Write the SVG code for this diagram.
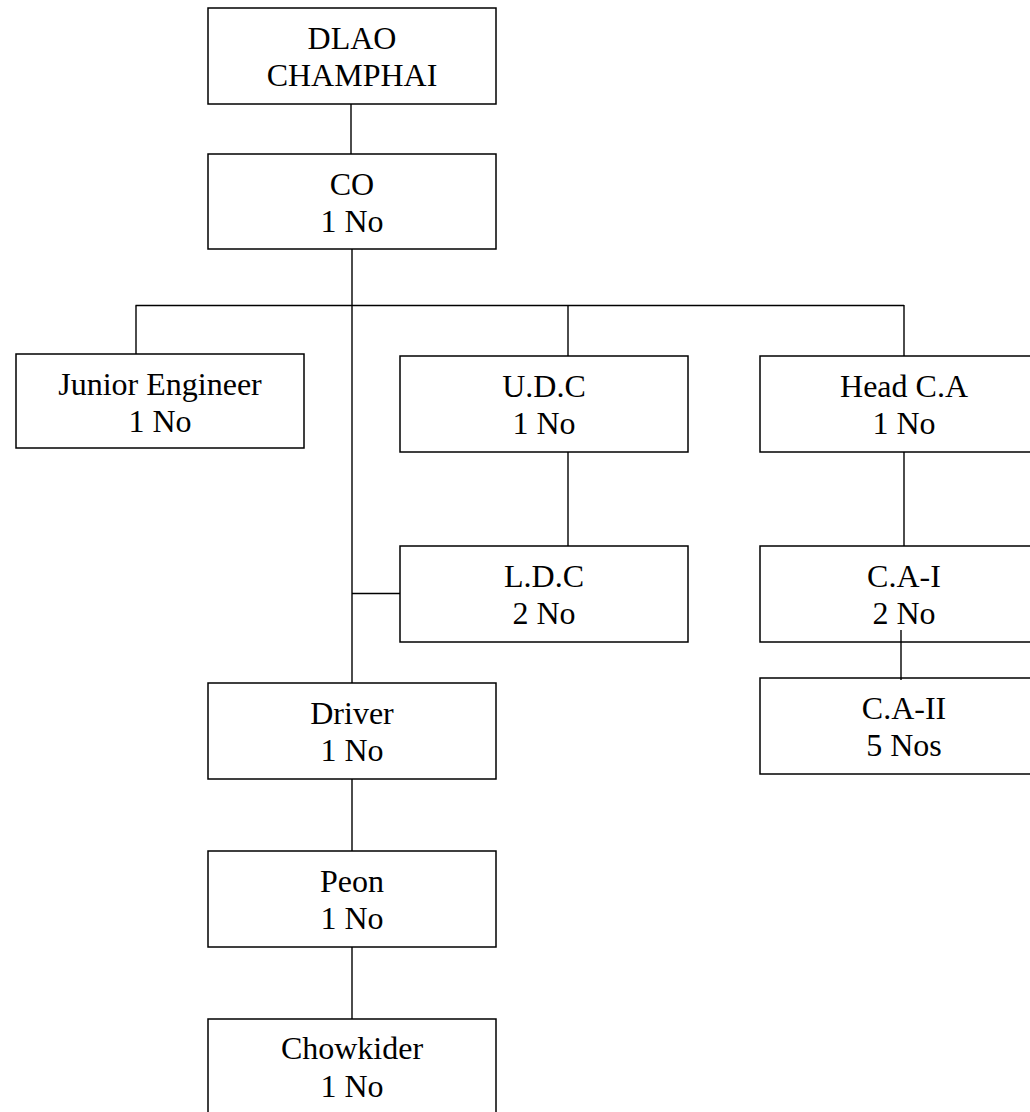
<svg xmlns="http://www.w3.org/2000/svg" width="1030" height="1112" viewBox="0 0 1030 1112">
<style>
.box{fill:none;stroke:#000;stroke-width:1.5}
.ln{stroke:#000;stroke-width:1.4;fill:none}
text{font-family:"Liberation Serif","Times New Roman",serif;font-size:32px;fill:#000;text-anchor:middle}
</style>
<rect width="1030" height="1112" fill="#fff"/>
<g id="connectors">
<line class="ln" x1="351" y1="104" x2="351" y2="154"/>
<line class="ln" x1="352" y1="249" x2="352" y2="305.5"/>
<line class="ln" x1="135.5" y1="305.5" x2="904" y2="305.5"/>
<line class="ln" x1="136" y1="305.5" x2="136" y2="354"/>
<line class="ln" x1="352" y1="305.5" x2="352" y2="683"/>
<line class="ln" x1="568" y1="305.5" x2="568" y2="356"/>
<line class="ln" x1="904" y1="305" x2="904" y2="356"/>
<line class="ln" x1="568" y1="452" x2="568" y2="546"/>
<line class="ln" x1="904" y1="452" x2="904" y2="546"/>
<line class="ln" x1="352" y1="593.5" x2="400" y2="593.5"/>
<line class="ln" x1="901" y1="630" x2="901" y2="680"/>
<line class="ln" x1="352" y1="779" x2="352" y2="851"/>
<line class="ln" x1="352" y1="947" x2="352" y2="1019"/>
</g>
<g id="dlao"><rect class="box" x="208" y="8" width="288" height="96"/><text x="352" y="49">DLAO</text><text x="352" y="86">CHAMPHAI</text></g>
<g id="co"><rect class="box" x="208" y="154" width="288" height="95"/><text x="352" y="195">CO</text><text x="352" y="232">1 No</text></g>
<g id="je"><rect class="box" x="16" y="354" width="288" height="94"/><text x="160" y="395">Junior Engineer</text><text x="160" y="432">1 No</text></g>
<g id="udc"><rect class="box" x="400" y="356" width="288" height="96"/><text x="544" y="397">U.D.C</text><text x="544" y="434">1 No</text></g>
<g id="headca"><rect class="box" x="760" y="356" width="288" height="96"/><text x="904" y="397">Head C.A</text><text x="904" y="434">1 No</text></g>
<g id="ldc"><rect class="box" x="400" y="546" width="288" height="96"/><text x="544" y="587">L.D.C</text><text x="544" y="624">2 No</text></g>
<g id="cai"><rect class="box" x="760" y="546" width="288" height="96"/><text x="904" y="587">C.A-I</text><text x="904" y="624">2 No</text></g>
<g id="caii"><rect class="box" x="760" y="678" width="288" height="96"/><text x="904" y="719">C.A-II</text><text x="904" y="756">5 Nos</text></g>
<g id="driver"><rect class="box" x="208" y="683" width="288" height="96"/><text x="352" y="724">Driver</text><text x="352" y="761">1 No</text></g>
<g id="peon"><rect class="box" x="208" y="851" width="288" height="96"/><text x="352" y="892">Peon</text><text x="352" y="929">1 No</text></g>
<g id="chowkider"><rect class="box" x="208" y="1019" width="288" height="96"/><text x="352" y="1059">Chowkider</text><text x="352" y="1097">1 No</text></g>
</svg>
